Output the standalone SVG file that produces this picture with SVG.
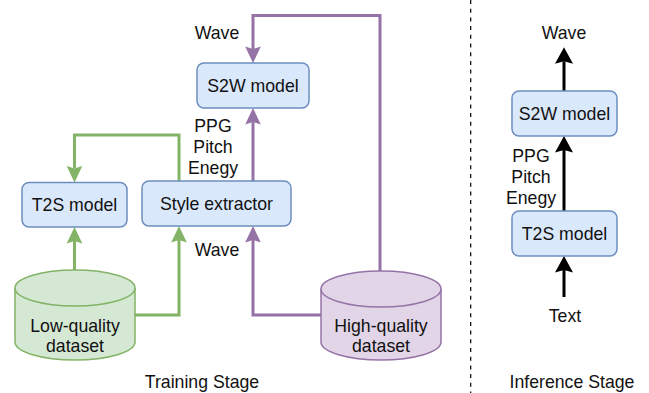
<svg xmlns="http://www.w3.org/2000/svg" width="649" height="393" viewBox="0 0 649 393">
<defs>
<style>
.box{fill:#dae8fc;stroke:#6c8ebf;stroke-width:1.5}
.lq{fill:#d5e8d4;stroke:#82b366;stroke-width:1.5}
.hq{fill:#e1d5e7;stroke:#9673a6;stroke-width:1.5}
text{font-family:"Liberation Sans",Arial,sans-serif;font-size:17.7px;fill:#111;text-anchor:middle}
.g{fill:none;stroke:#82b366;stroke-width:3}
.p{fill:none;stroke:#9673a6;stroke-width:3}
.k{fill:none;stroke:#000;stroke-width:3}
</style>
<marker id="ag" markerUnits="userSpaceOnUse" viewBox="-5 -10 20 20" refX="0" refY="0" markerWidth="20" markerHeight="20" orient="auto" overflow="visible"><path d="M14,0 L-2.5,-7.8 L0,0 L-2.5,7.8 Z" fill="#82b366"/></marker>
<marker id="ap" markerUnits="userSpaceOnUse" viewBox="-5 -10 20 20" refX="0" refY="0" markerWidth="20" markerHeight="20" orient="auto" overflow="visible"><path d="M14,0 L-2.5,-7.8 L0,0 L-2.5,7.8 Z" fill="#9673a6"/></marker>
<marker id="ak" markerUnits="userSpaceOnUse" viewBox="-5 -10 20 20" refX="0" refY="0" markerWidth="20" markerHeight="20" orient="auto" overflow="visible"><path d="M14,0 L-2.5,-9 L0,0 L-2.5,9 Z" fill="#000"/></marker>
</defs>
<rect width="649" height="393" fill="#fff"/>
<g id="connectors">
<path class="g" d="M74.5,270 V241" marker-end="url(#ag)"/>
<path class="g" d="M135,315 H179 V240" marker-end="url(#ag)"/>
<path class="g" d="M179,181 V135 H74.5 V168.5" marker-end="url(#ag)"/>
<path class="p" d="M321,315 H253 V240" marker-end="url(#ap)"/>
<path class="p" d="M253,181 V122" marker-end="url(#ap)"/>
<path class="p" d="M380,271 V15.5 H253 V49" marker-end="url(#ap)"/>
<path class="k" d="M564,297 V270" marker-end="url(#ak)"/>
<path class="k" d="M564,211 V150" marker-end="url(#ak)"/>
<path class="k" d="M564,91 V61.3" marker-end="url(#ak)"/>
<line x1="470.7" y1="0" x2="470.7" y2="393" stroke="#000" stroke-width="1.2" stroke-dasharray="4,4.7"/>
</g>
<g id="s2w-train"><rect class="box" x="197" y="63" width="112" height="45" rx="7"/><text x="253" y="91.5">S2W model</text></g>
<g id="t2s-train"><rect class="box" x="22" y="182.5" width="105" height="44.5" rx="7"/><text x="74.5" y="211">T2S model</text></g>
<g id="style-extractor"><rect class="box" x="142" y="181" width="149" height="45" rx="7"/><text x="216.5" y="210">Style extractor</text></g>
<g id="low-quality"><path class="lq" d="M15,288 A60,18 0 0 1 135,288 V342 A60,18 0 0 1 15,342 Z"/><path class="lq" fill="none" d="M15,288 A60,18 0 0 0 135,288"/><text x="75" y="332">Low-quality</text><text x="75" y="351.5">dataset</text></g>
<g id="high-quality"><path class="hq" d="M321,289 A60,18 0 0 1 441,289 V342 A60,18 0 0 1 321,342 Z"/><path class="hq" fill="none" d="M321,289 A60,18 0 0 0 441,289"/><text x="381" y="332">High-quality</text><text x="381" y="351.5">dataset</text></g>
<g id="s2w-infer"><rect class="box" x="512" y="91" width="105" height="45" rx="7"/><text x="564.5" y="120">S2W model</text></g>
<g id="t2s-infer"><rect class="box" x="512" y="211" width="105" height="45" rx="7"/><text x="564.5" y="240">T2S model</text></g>
<g id="labels">
<text x="217" y="38.5">Wave</text>
<text x="213" y="131.5">PPG</text>
<text x="213" y="152.5">Pitch</text>
<text x="213" y="173.5">Enegy</text>
<text x="217" y="255.5">Wave</text>
<text x="564" y="38.5">Wave</text>
<text x="531" y="161.5">PPG</text>
<text x="531" y="182.5">Pitch</text>
<text x="531" y="203.5">Enegy</text>
<text x="565" y="321.5">Text</text>
<text x="202" y="387.5">Training Stage</text>
<text x="572" y="387.5">Inference Stage</text>
</g>
</svg>
